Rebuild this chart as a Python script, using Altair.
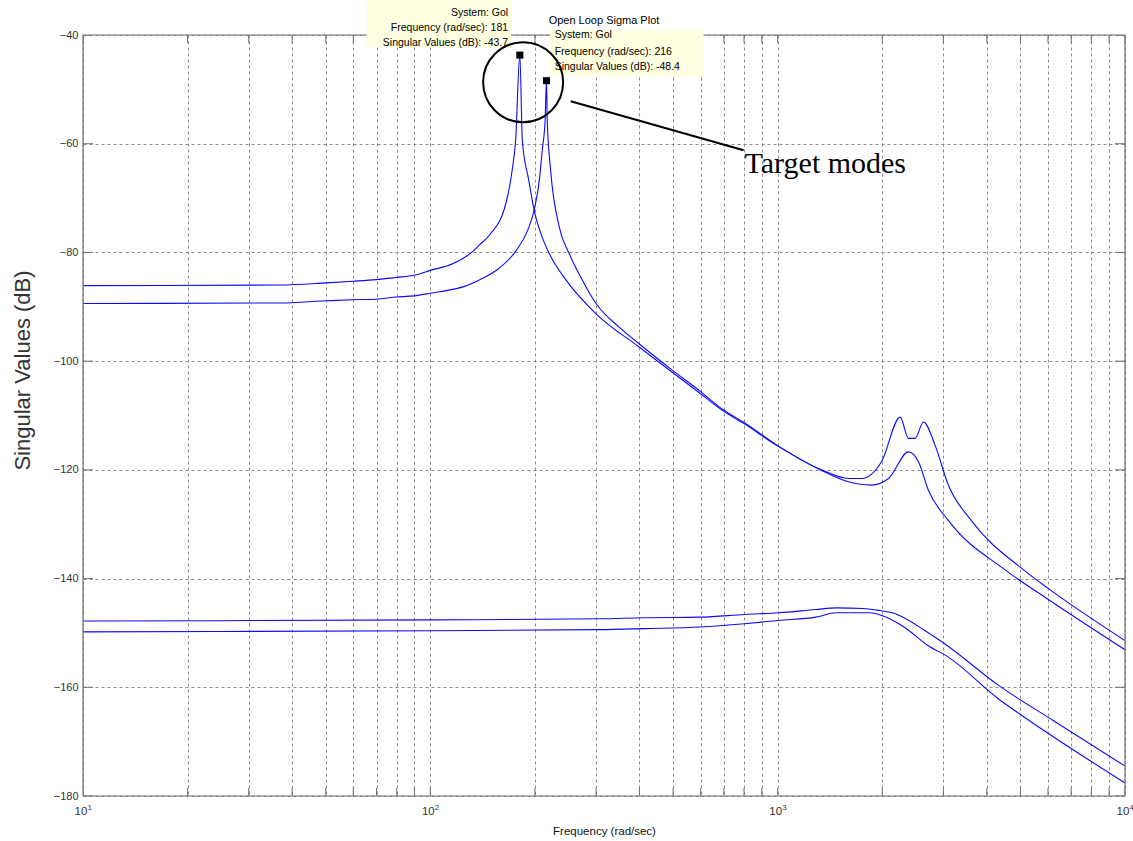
import altair as alt
import pandas as pd

# Singular value curves of the open-loop plant Gol (frequency in rad/sec, value in dB)
freq_a = [10, 36.8, 50.2, 59.9, 69.8, 79.7, 89.9, 100, 116, 132, 138, 148, 165, 172, 176,
          181, 184, 192, 199, 208, 220, 246, 300, 399, 496, 600, 695, 800, 993, 1337,
          1599, 1743, 1990, 2253, 2379, 2488, 2628, 2840, 3100, 3608, 5128, 6006, 10000]
sv_a = [-86.1, -86.0, -85.6, -85.3, -85.0, -84.6, -84.2, -83.3, -82.1, -79.9, -78.7, -76.8, -71.0, -64.9, -59.4,
        -43.7, -59.4, -66.7, -72.2, -76.5, -80.2, -85.1, -91.3, -97.4, -102.0, -106.0, -109.1, -111.5, -115.5, -120.0,
        -121.6, -121.6, -118.5, -110.3, -114.2, -114.2, -111.2, -115.5, -122.8, -129.3, -138.5, -141.8, -151.4]

freq_b = [10, 36.8, 50.2, 59.9, 69.8, 79.7, 89.9, 100, 116, 126, 141, 157, 176, 191, 199, 206,
          210, 214, 216, 217, 222, 235, 251, 274, 300, 349, 399, 496, 600, 695, 800, 993,
          1337, 1599, 1862, 2085, 2379, 2543, 2718, 3100, 4540, 6000, 10000]
sv_b = [-89.4, -89.3, -88.9, -88.7, -88.6, -88.2, -88.0, -87.5, -86.8, -86.2, -84.8, -83.0, -79.8, -75.8, -72.2, -66.7,
        -61.2, -55.7, -48.4, -55.7, -64.9, -75.3, -80.2, -85.1, -89.4, -93.7, -96.8, -101.6, -105.6, -108.9, -111.3, -115.4,
        -120.1, -122.2, -122.8, -121.6, -116.7, -118.5, -123.8, -129.3, -138.5, -143.8, -153.1]

freq_c = [10, 100, 306, 414, 600, 803, 1007, 1288, 1475, 1767, 1932, 2210, 2644, 3026, 4315, 6210, 10000]
sv_c = [-147.8, -147.6, -147.4, -147.2, -147.1, -146.6, -146.3, -145.7, -145.4, -145.5, -145.8, -146.6,
        -149.5, -152.0, -159.6, -166.1, -174.5]

freq_d = [10, 100, 306, 414, 600, 803, 1007, 1288, 1475, 1845, 1995, 2310, 2706, 3093, 4315, 5297, 10000]
sv_d = [-149.8, -149.6, -149.4, -149.2, -148.9, -148.3, -147.7, -147.1, -146.3, -146.3, -146.8, -148.9,
        -152.3, -154.4, -162.1, -166.1, -177.6]

# Axis ranges and ticks
x_domain = [10, 10000]
y_domain = [-180, -40]
x_ticks = [m * 10 ** k for k in range(1, 4) for m in range(1, 10)] + [10000]
y_ticks = list(range(-180, -39, 20))
decades = [10, 100, 1000, 10000]
decade_exponents = ["1", "2", "3", "4"]

# Data tips on the two target-mode peaks
peak_freq = [181, 216]
peak_sv = [-43.7, -48.4]

tip_box_f0 = [65.5, 221.3]
tip_box_f1 = [171, 612]
tip_box_v0 = [-33.6, -39.1]
tip_box_v1 = [-42.3, -47.6]

tip1_lines = ["System: Gol", "Frequency (rad/sec): 181", "Singular Values (dB): -43.7"]
tip1_f = 167.5
tip1_v = [-35.95, -38.77, -41.53]
tip2_lines = ["System: Gol", "Frequency (rad/sec): 216", "Singular Values (dB): -48.4"]
tip2_f = 228
tip2_v = [-40.06, -43.13, -45.89]

# Circle around the peaks and its callout
ring_f, ring_v = [185], [-48.7]
pointer_f = [253.6, 798]
pointer_v = [-52.2, -61.2]
callout_text, callout_f, callout_v = "Target modes", 803, -65.4

title_text, title_f, title_v = "Open Loop Sigma Plot", 316.2, -37.4

SANS = "Liberation Sans, Arial, sans-serif"
SERIF = "Liberation Serif, Times New Roman, serif"
FRAME = "#6e6e6e"

curves = pd.concat([
    pd.DataFrame({"freq": freq_a, "sv": sv_a, "curve": "a"}),
    pd.DataFrame({"freq": freq_b, "sv": sv_b, "curve": "b"}),
    pd.DataFrame({"freq": freq_c, "sv": sv_c, "curve": "c"}),
    pd.DataFrame({"freq": freq_d, "sv": sv_d, "curve": "d"}),
])

x_scale = alt.Scale(type="log", domain=x_domain, nice=False)
y_scale = alt.Scale(domain=y_domain, nice=False, zero=False)

# decade labels are drawn as text marks below, so the x axis carries grid and title only
x_axis = alt.Axis(
    values=x_ticks, labels=False, grid=True, gridDash=[3, 3], gridColor="#8a8a8a",
    gridWidth=1, ticks=False, tickSize=0, domain=False,
    title="Frequency (rad/sec)", titleFont=SANS, titleFontSize=11.5, titleFontWeight="normal",
    titleColor="#111", titleX=521, titleY=35, titleBaseline="middle", titleAlign="center",
)
y_axis = alt.Axis(
    values=y_ticks, grid=True, gridDash=[3, 3], gridColor="#8a8a8a", gridWidth=1,
    ticks=False, tickSize=0, domain=False, labelFont=SANS, labelFontSize=11, labelColor="#333",
    labelPadding=5, title="Singular Values (dB)", titleFont=SANS, titleFontSize=22,
    titleFontWeight="normal", titleColor="#333", titleX=-61, titleY=335, titleAngle=270,
    titleAlign="center", titleBaseline="middle",
)

X = alt.X("freq:Q", scale=x_scale, axis=x_axis)
Y = alt.Y("sv:Q", scale=y_scale, axis=y_axis)

lines = alt.Chart(curves).mark_line(
    color="#0a0aff", strokeWidth=1.1, clip=True, interpolate="monotone").encode(
    x=X, y=Y, detail="curve:N")

frame_df = pd.DataFrame({"freq": [x_domain[0]], "freq2": [x_domain[1]],
                         "sv": [y_domain[0]], "sv2": [y_domain[1]]})
frame = alt.Chart(frame_df).mark_rect(fillOpacity=0, stroke=FRAME, strokeWidth=1.2).encode(
    x=X, x2="freq2:Q", y=Y, y2="sv2:Q")

# inward tick marks on all four sides (clipped to the plot area)
xt = pd.DataFrame({"freq": x_ticks * 2, "sv": [y_domain[0]] * len(x_ticks) + [y_domain[1]] * len(x_ticks)})
yt = pd.DataFrame({"sv": y_ticks * 2, "freq": [x_domain[0]] * len(y_ticks) + [x_domain[1]] * len(y_ticks)})
x_tick_marks = alt.Chart(xt).mark_tick(orient="vertical", size=16, thickness=1, color=FRAME,
                                       clip=True, opacity=1).encode(x=X, y=Y)
y_tick_marks = alt.Chart(yt).mark_tick(orient="horizontal", size=20, thickness=1, color=FRAME,
                                       clip=True, opacity=1).encode(x=X, y=Y)

# decade labels: "10" with the exponent raised beside it
decade_df = pd.DataFrame({"freq": decades, "sv": [y_domain[0]] * 4, "t": ["10"] * 4, "e": decade_exponents})
decade_base = alt.Chart(decade_df).mark_text(
    align="center", baseline="middle", dx=-2, dy=16, font=SANS, fontSize=11.5, color="#333").encode(
    x=X, y=Y, text="t:N")
decade_exp = alt.Chart(decade_df).mark_text(
    align="left", baseline="middle", dx=4.5, dy=12, font=SANS, fontSize=8, color="#333").encode(
    x=X, y=Y, text="e:N")

boxes_df = pd.DataFrame({"freq": tip_box_f0, "freq2": tip_box_f1, "sv": tip_box_v0, "sv2": tip_box_v1})
boxes = alt.Chart(boxes_df).mark_rect(fill="#ffffe1").encode(x=X, x2="freq2:Q", y=Y, y2="sv2:Q")

tip1 = alt.Chart(pd.DataFrame({"freq": [tip1_f] * 3, "sv": tip1_v, "t": tip1_lines})).mark_text(
    align="right", baseline="middle", font=SANS, fontSize=10.5, color="black").encode(x=X, y=Y, text="t:N")
tip2 = alt.Chart(pd.DataFrame({"freq": [tip2_f] * 3, "sv": tip2_v, "t": tip2_lines})).mark_text(
    align="left", baseline="middle", font=SANS, fontSize=10.5, color="black").encode(x=X, y=Y, text="t:N")

markers = alt.Chart(pd.DataFrame({"freq": peak_freq, "sv": peak_sv})).mark_square(
    size=50, color="black", opacity=1).encode(x=X, y=Y)

ring = alt.Chart(pd.DataFrame({"freq": ring_f, "sv": ring_v})).mark_point(
    shape="circle", size=6400, filled=False, color="black", strokeWidth=2, opacity=1).encode(x=X, y=Y)

pointer = alt.Chart(pd.DataFrame({"freq": pointer_f, "sv": pointer_v})).mark_line(
    color="black", strokeWidth=2).encode(x=X, y=Y)

callout = alt.Chart(pd.DataFrame({"freq": [callout_f], "sv": [callout_v], "t": [callout_text]})).mark_text(
    align="left", baseline="alphabetic", font=SERIF, fontSize=30, color="black").encode(x=X, y=Y, text="t:N")

title = alt.Chart(pd.DataFrame({"freq": [title_f], "sv": [title_v], "t": [title_text]})).mark_text(
    align="center", baseline="middle", font=SANS, fontSize=11, color="black").encode(x=X, y=Y, text="t:N")

chart = alt.layer(
    lines, frame, x_tick_marks, y_tick_marks, decade_base, decade_exp, boxes, tip1, tip2, markers,
    ring, pointer, callout, title
).properties(
    width=1042, height=761,
    autosize=alt.AutoSizeParams(type="none"),
    padding={"left": 83, "top": 35, "right": 8, "bottom": 45},
    background="white",
).configure_view(stroke=None)

chart.save("out.html", embed_options={"renderer": "svg", "actions": False})
